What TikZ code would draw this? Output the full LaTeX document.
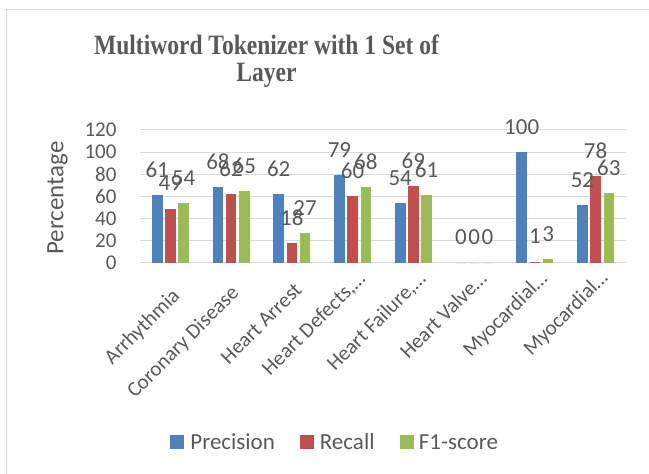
\documentclass[tikz,border=0pt]{standalone}
\usepackage{fontspec}
\setmainfont{Carlito}
\newfontfamily\titlefont{Liberation Serif}
\usetikzlibrary{positioning}
\definecolor{precblue}{HTML}{4F81BD}
\definecolor{recred}{HTML}{C0504D}
\definecolor{fonegreen}{HTML}{9BBB59}
\definecolor{txtgray}{HTML}{595959}
\definecolor{gridgray}{HTML}{D9D9D9}

\begin{document}
\begin{tikzpicture}[x=1pt, y=1pt,
    every node/.style={text=txtgray, inner sep=0pt},
    ticklabel/.style={font=\fontsize{21}{24}\selectfont, anchor=east},
    vlabel/.style={font=\fontsize{23}{26}\selectfont, anchor=base, yshift=17.7pt},
    catlabel/.style={font=\fontsize{21}{24}\selectfont, rotate=45, anchor=base east},
    legbox/.style={minimum size=14pt},
    legtext/.style={font=\fontsize{23}{26}\selectfont}]
\useasboundingbox (0,0) rectangle (649,474);
\clip (0,0) rectangle (649,474);
\draw[gridgray, line width=1.2pt] (6.5,-10) rectangle (670,464.5);

% title, two lines
\node[font=\titlefont\bfseries\fontsize{28}{32}\selectfont, xscale=.84, anchor=base] (title1) at (266.5,419) {Multiword Tokenizer with 1 Set of};
\node[font=\titlefont\bfseries\fontsize{28}{32}\selectfont, xscale=.84, anchor=base] (title2) at (266.5,392) {Layer};

\node[font=\fontsize{25}{28}\selectfont, rotate=90] (ytitle) at (57.5,276) {Percentage};

\begin{scope}[shift={(140,211.3)}, y=1.106pt]
    % grid and y ticks
    \foreach \v in {0,20,...,120} {
        \draw[gridgray, line width=1pt] (0,\v) -- (486,\v);
        \node[ticklabel] (tick\v) at (-23.3,\v) {\v};
    }
    % bars: precision / recall / f1
    \foreach \p/\r/\f [count=\i] in {61/49/54, 68/62/65, 62/18/27, 79/60/68,
                                     54/69/61, 0/0/0, 100/1/3, 52/78/63} {
        \pgfmathsetmacro\cx{30.4+60.75*(\i-1)}
        \fill[precblue] (\cx-18.5,0) rectangle (\cx-7.9,\p);
        \fill[recred] (\cx-5.3,0) rectangle (\cx+5.3,\r);
        \fill[fonegreen] (\cx+7.9,0) rectangle (\cx+18.5,\f);
        \node[vlabel] (p\i) at (\cx-13.2,\p) {\p};
        \node[vlabel] (r\i) at (\cx,\r) {\r};
        \node[vlabel] (f\i) at (\cx+13.2,\f) {\f};
    }
\end{scope}

% category names
\node[catlabel] (c1) at (181,177) {Arrhythmia};
\node[catlabel] (c2) at (240,180) {Coronary Disease};
\node[catlabel] (c3) at (303,183) {Heart Arrest};
\node[catlabel] (c4) at (366.5,194) {Heart Defects,…};
\node[catlabel] (c5) at (427,194) {Heart Failure,…};
\node[catlabel] (c6) at (488,194) {Heart Valve…};
\node[catlabel] (c7) at (548.5,194) {Myocardial…};
\node[catlabel] (c8) at (609,195) {Myocardial…};

% legend
\node[legbox, fill=precblue] (lp) at (177,32) {};
\node[legtext, right=6pt of lp] (lpt) {Precision};
\node[legbox, fill=recred] (lr) at (306.5,32) {};
\node[legtext, right=6pt of lr] (lrt) {Recall};
\node[legbox, fill=fonegreen] (lf) at (406.5,32) {};
\node[legtext, right=5pt of lf] (lft) {F1-score};
\end{tikzpicture}
\end{document}
